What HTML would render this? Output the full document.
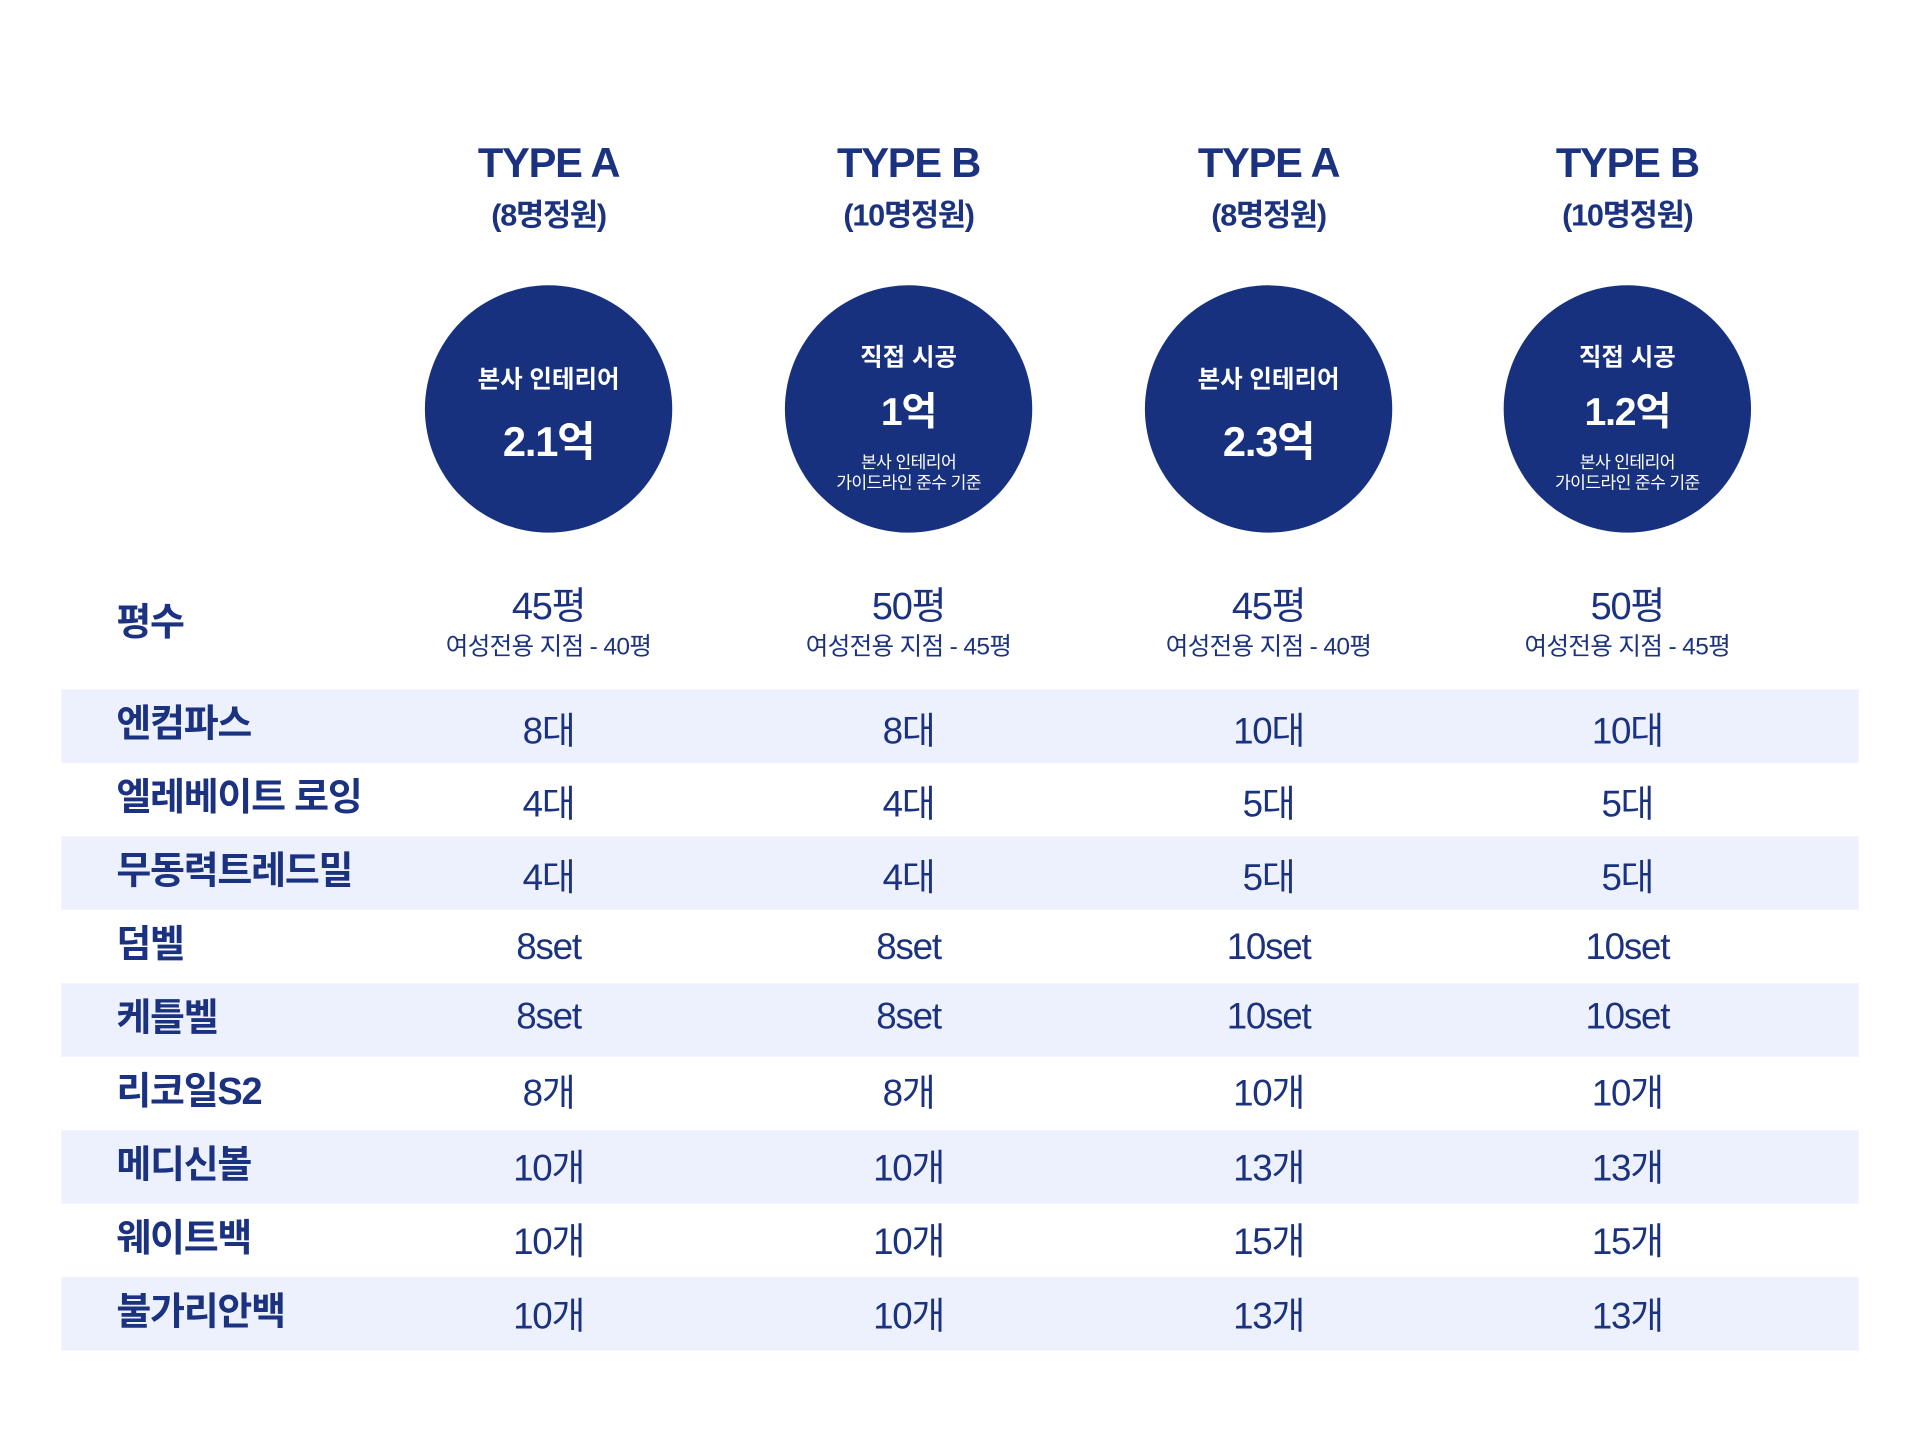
<!DOCTYPE html>
<html><head><meta charset="utf-8"><style>
html,body{margin:0;padding:0;background:#fff;width:1920px;height:1440px;overflow:hidden}
#w{position:absolute;left:0;top:0;width:1568px;height:1176px;transform:scale(1.22449);transform-origin:0 0;font-family:"Liberation Sans","Noto Sans CJK KR",sans-serif;color:#1b3280}
.c{position:absolute;transform:translate(-50%,-50%);white-space:nowrap;text-align:center}
.circ{position:absolute;width:202px;height:202px;border-radius:50%;background:#17317f;transform:translate(-50%,-50%);top:334px}
.w{color:#fff}
.band{position:absolute;left:50px;width:1468px;height:60px;background:#edf1fd}
.lab{position:absolute;left:95px;transform:translateY(-50%);font-size:31px;font-weight:bold;white-space:nowrap;letter-spacing:-1px}
.v{font-size:30px;letter-spacing:-1px;margin-top:1px}
.t{font-size:34px;font-weight:bold;letter-spacing:-1px}
.s{font-size:20px;letter-spacing:-0.5px}
</style></head><body><div id="w">
<div class="band" style="top:563px"></div>
<div class="band" style="top:683px"></div>
<div class="band" style="top:803px"></div>
<div class="band" style="top:923px"></div>
<div class="band" style="top:1043px"></div>

<div class="c t" style="left:448px;top:134px">TYPE A</div>
<div class="c t" style="left:742px;top:134px">TYPE B</div>
<div class="c t" style="left:1036px;top:134px">TYPE A</div>
<div class="c t" style="left:1329px;top:134px">TYPE B</div>
<div class="c" style="left:448px;top:174px;font-size:25px;font-weight:bold;letter-spacing:-1px">(8명정원)</div>
<div class="c" style="left:742px;top:174px;font-size:25px;font-weight:bold;letter-spacing:-1px">(10명정원)</div>
<div class="c" style="left:1036px;top:174px;font-size:25px;font-weight:bold;letter-spacing:-1px">(8명정원)</div>
<div class="c" style="left:1329px;top:174px;font-size:25px;font-weight:bold;letter-spacing:-1px">(10명정원)</div>

<div class="circ" style="left:448px"></div>
<div class="circ" style="left:742px"></div>
<div class="circ" style="left:1036px"></div>
<div class="circ" style="left:1329px"></div>

<div class="c w" style="left:448px;top:308px;font-size:20px;font-weight:bold">본사 인테리어</div>
<div class="c w" style="left:448px;top:358px;font-size:34px;font-weight:bold;letter-spacing:-1px">2.1억</div>
<div class="c w" style="left:1036px;top:308px;font-size:20px;font-weight:bold">본사 인테리어</div>
<div class="c w" style="left:1036px;top:358px;font-size:34px;font-weight:bold;letter-spacing:-1px">2.3억</div>

<div class="c w" style="left:742px;top:290px;font-size:20px;font-weight:bold">직접 시공</div>
<div class="c w" style="left:742px;top:334px;font-size:32px;font-weight:bold;letter-spacing:-1px">1억</div>
<div class="c w" style="left:742px;top:377px;font-size:14px;letter-spacing:-0.5px">본사 인테리어</div>
<div class="c w" style="left:742px;top:394px;font-size:14px;letter-spacing:-0.5px">가이드라인 준수 기준</div>
<div class="c w" style="left:1329px;top:290px;font-size:20px;font-weight:bold">직접 시공</div>
<div class="c w" style="left:1329px;top:334px;font-size:32px;font-weight:bold;letter-spacing:-1px">1.2억</div>
<div class="c w" style="left:1329px;top:377px;font-size:14px;letter-spacing:-0.5px">본사 인테리어</div>
<div class="c w" style="left:1329px;top:394px;font-size:14px;letter-spacing:-0.5px">가이드라인 준수 기준</div>

<div class="lab" style="top:505px">평수</div>
<div class="c" style="left:448px;top:492px;font-size:31px;letter-spacing:-1px">45평</div>
<div class="c" style="left:742px;top:492px;font-size:31px;letter-spacing:-1px">50평</div>
<div class="c" style="left:1036px;top:492px;font-size:31px;letter-spacing:-1px">45평</div>
<div class="c" style="left:1329px;top:492px;font-size:31px;letter-spacing:-1px">50평</div>
<div class="c s" style="left:448px;top:526px">여성전용 지점 - 40평</div>
<div class="c s" style="left:742px;top:526px">여성전용 지점 - 45평</div>
<div class="c s" style="left:1036px;top:526px">여성전용 지점 - 40평</div>
<div class="c s" style="left:1329px;top:526px">여성전용 지점 - 45평</div>

<div class="lab" style="top:588px">엔컴파스</div>
<div class="lab" style="top:648px">엘레베이트 로잉</div>
<div class="lab" style="top:708px">무동력트레드밀</div>
<div class="lab" style="top:768px">덤벨</div>
<div class="lab" style="top:828px">케틀벨</div>
<div class="lab" style="top:888px">리코일S2</div>
<div class="lab" style="top:948px">메디신볼</div>
<div class="lab" style="top:1008px">웨이트백</div>
<div class="lab" style="top:1068px">불가리안백</div>

<div class="c v" style="left:448px;top:593px">8대</div><div class="c v" style="left:742px;top:593px">8대</div><div class="c v" style="left:1036px;top:593px">10대</div><div class="c v" style="left:1329px;top:593px">10대</div>
<div class="c v" style="left:448px;top:653px">4대</div><div class="c v" style="left:742px;top:653px">4대</div><div class="c v" style="left:1036px;top:653px">5대</div><div class="c v" style="left:1329px;top:653px">5대</div>
<div class="c v" style="left:448px;top:713px">4대</div><div class="c v" style="left:742px;top:713px">4대</div><div class="c v" style="left:1036px;top:713px">5대</div><div class="c v" style="left:1329px;top:713px">5대</div>
<div class="c v" style="left:448px;top:773px">8set</div><div class="c v" style="left:742px;top:773px">8set</div><div class="c v" style="left:1036px;top:773px">10set</div><div class="c v" style="left:1329px;top:773px">10set</div>
<div class="c v" style="left:448px;top:830px">8set</div><div class="c v" style="left:742px;top:830px">8set</div><div class="c v" style="left:1036px;top:830px">10set</div><div class="c v" style="left:1329px;top:830px">10set</div>
<div class="c v" style="left:448px;top:889px">8개</div><div class="c v" style="left:742px;top:889px">8개</div><div class="c v" style="left:1036px;top:889px">10개</div><div class="c v" style="left:1329px;top:889px">10개</div>
<div class="c v" style="left:448px;top:950px">10개</div><div class="c v" style="left:742px;top:950px">10개</div><div class="c v" style="left:1036px;top:950px">13개</div><div class="c v" style="left:1329px;top:950px">13개</div>
<div class="c v" style="left:448px;top:1010px">10개</div><div class="c v" style="left:742px;top:1010px">10개</div><div class="c v" style="left:1036px;top:1010px">15개</div><div class="c v" style="left:1329px;top:1010px">15개</div>
<div class="c v" style="left:448px;top:1071px">10개</div><div class="c v" style="left:742px;top:1071px">10개</div><div class="c v" style="left:1036px;top:1071px">13개</div><div class="c v" style="left:1329px;top:1071px">13개</div>
</div></body></html>
